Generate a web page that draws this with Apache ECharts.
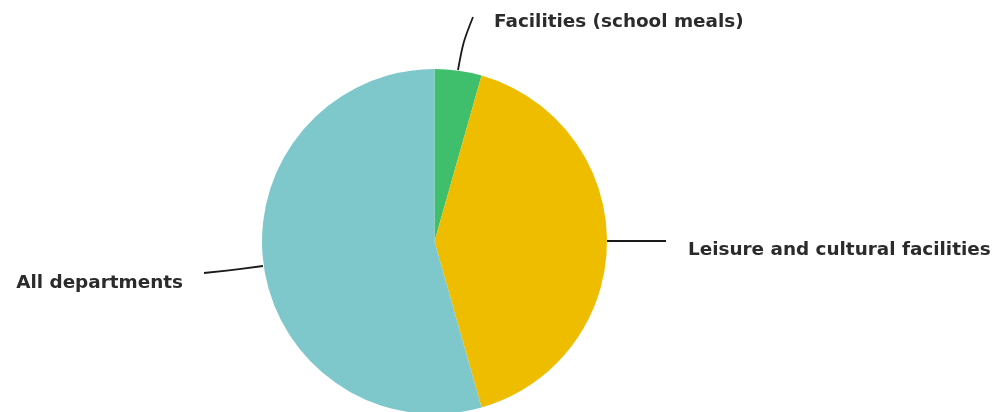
<!DOCTYPE html>
<html><head><meta charset="utf-8">
<script src="https://cdn.jsdelivr.net/npm/echarts@6/dist/echarts.min.js"></script>
<style>html,body{margin:0;padding:0;background:#fff}#c{width:995px;height:412px}</style>
</head><body><div id="c"></div>
<script>
const categories = ['Facilities (school meals)', 'Leisure and cultural facilities', 'All departments'];
const values = [4.4, 41.2, 54.4];
const colors = ['#3fbf6b', '#efbd00', '#7ec8cc'];
const labelPos = [
  {x: 494, y: 22, align: 'left', line: [[458, 70], [463, 42], [473, 17]]},
  {x: 688, y: 250, align: 'left', line: [[607, 241], [637, 241], [666, 241]]},
  {x: 183, y: 283, align: 'right', line: [[263, 266], [233, 270], [204, 273]]}
];
const chart = echarts.init(document.getElementById('c'));
chart.setOption({
  animation: false,
  series: [{
    type: 'pie',
    center: [434.5, 241.5],
    radius: 172.5,
    startAngle: 90,
    clockwise: true,
    silent: true,
    data: categories.map((n, i) => ({name: n, value: values[i], itemStyle: {color: colors[i]}})),
    label: {
      show: true,
      formatter: '{b}',
      color: '#2b2b2b',
      fontFamily: 'DejaVu Sans',
      fontWeight: 'bold',
      fontSize: 18.4
    },
    labelLine: {show: true, smooth: 0.3, lineStyle: {color: '#1a1a1a', width: 1.8}},
    labelLayout: function (p) {
      const lp = labelPos[p.dataIndex];
      return {x: lp.x, y: lp.y, align: lp.align, verticalAlign: 'middle', labelLinePoints: lp.line};
    }
  }]
});
</script></body></html>
